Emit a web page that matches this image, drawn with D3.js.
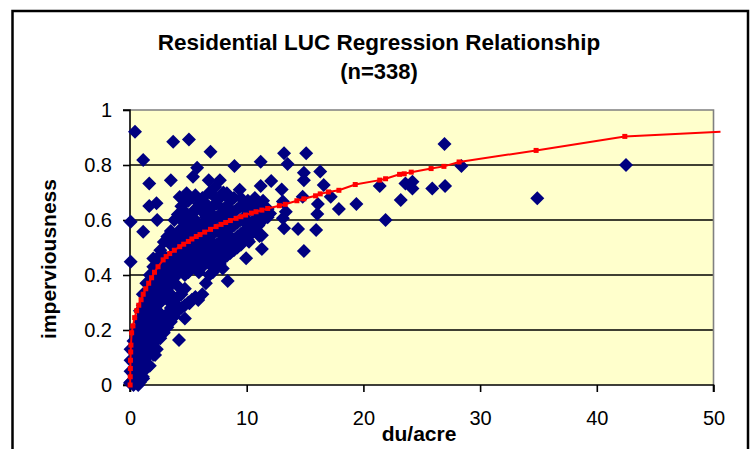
<!DOCTYPE html>
<html>
<head>
<meta charset="utf-8">
<script src="https://cdn.jsdelivr.net/npm/d3@7"></script>
<style>
  body { margin: 0; background: #fff; }
  text { font-family: "Liberation Sans", Arial, sans-serif; }
</style>
</head>
<body>
<div id="grafico"></div>
<script>
const titulo = "Residential LUC Regression Relationship";
const subtitulo = "(n=338)";
const tituloX = "du/acre";
const tituloY = "imperviousness";
const ticksX = [0, 10, 20, 30, 40, 50];
const ticksY = [0, 0.2, 0.4, 0.6, 0.8, 1];
const lineasGuia = [0.2, 0.4, 0.6, 0.8];

// puntos sueltos (du/acre, imperviousness)
const puntosSueltos = [
  [0.43,0.921],[3.7,0.885],[5.05,0.893],[6.9,0.848],[1.13,0.818],[5.75,0.79],[1.65,0.733],
  [3.5,0.745],[6.75,0.745],[5.4,0.757],[1.65,0.651],[2.27,0.661],[0.06,0.594],[2.33,0.6],
  [1.13,0.557],[4.26,0.684],[4.85,0.697],[4.4,0.6],[13.2,0.843],[15.1,0.843],[11.2,0.812],
  [8.95,0.796],[13.5,0.804],[14.9,0.772],[16.3,0.776],[14.9,0.745],[16.6,0.727],[12.1,0.742],
  [11.2,0.724],[13.0,0.711],[14.8,0.685],[13.1,0.667],[16.1,0.658],[17.9,0.64],[16.05,0.622],
  [13.35,0.63],[13.1,0.606],[13.2,0.57],[14.4,0.567],[15.95,0.564],[11.1,0.542],[14.9,0.487],
  [11.3,0.495],[10.2,0.521],[9.95,0.461],[7.95,0.424],[8.37,0.378],[26.95,0.876],[28.4,0.796],
  [23.6,0.733],[24.2,0.739],[24.2,0.715],[25.9,0.715],[27.0,0.724],[21.4,0.724],[23.2,0.673],
  [21.9,0.6],[19.4,0.658],[17.2,0.685],[34.9,0.679],[42.5,0.8],[0.06,0.448],[4.7,0.242],
  [4.2,0.164],[2.15,0.109],[1.13,0.024],[0.7,0.0],[0.0,0.007],[5.85,0.309],[5.1,0.297],
  [7.7,0.745],[8.3,0.697],[12.0,0.624],[10.1,0.527],[11.3,0.545],[7.3,0.72],[9.4,0.71]
];

// nucleo denso: cada fila es [du/acre, [imperviousness...]]
const nucleo = [
  [0.05, [0.01, 0.05, 0.09, 0.13]],
  [0.3, [0.0, 0.04, 0.08, 0.12, 0.16]],
  [0.55, [0.02, 0.06, 0.11, 0.15, 0.2]],
  [0.85, [0.01, 0.05, 0.09, 0.14, 0.18, 0.23, 0.27]],
  [1.1, [0.03, 0.07, 0.12, 0.16, 0.21, 0.25, 0.29, 0.33]],
  [1.4, [0.06, 0.1, 0.14, 0.19, 0.24, 0.28, 0.33, 0.37]],
  [1.7, [0.07, 0.12, 0.17, 0.22, 0.26, 0.31, 0.36, 0.4]],
  [2.0, [0.11, 0.15, 0.2, 0.25, 0.29, 0.34, 0.39, 0.43, 0.46]],
  [2.3, [0.13, 0.18, 0.23, 0.27, 0.32, 0.36, 0.41, 0.46]],
  [2.6, [0.17, 0.21, 0.26, 0.3, 0.35, 0.4, 0.44, 0.49]],
  [2.9, [0.19, 0.24, 0.33, 0.38, 0.42, 0.47, 0.52]],
  [3.2, [0.21, 0.26, 0.31, 0.35, 0.4, 0.45, 0.54]],
  [3.5, [0.23, 0.28, 0.33, 0.37, 0.42, 0.47, 0.51, 0.56]],
  [3.8, [0.25, 0.3, 0.39, 0.44, 0.48, 0.53, 0.6]],
  [4.1, [0.27, 0.32, 0.36, 0.41, 0.46, 0.5, 0.55, 0.62]],
  [4.4, [0.28, 0.33, 0.43, 0.48, 0.52, 0.57, 0.65]],
  [4.7, [0.29, 0.35, 0.4, 0.45, 0.5, 0.54, 0.59, 0.63]],
  [5.0, [0.3, 0.41, 0.46, 0.51, 0.56, 0.61, 0.67]],
  [5.3, [0.31, 0.43, 0.48, 0.53, 0.58, 0.62]],
  [5.6, [0.32, 0.44, 0.5, 0.55, 0.6, 0.64, 0.69]],
  [5.9, [0.41, 0.46, 0.52, 0.57, 0.66]],
  [6.2, [0.33, 0.43, 0.48, 0.53, 0.58, 0.63, 0.68]],
  [6.5, [0.37, 0.46, 0.51, 0.56, 0.61, 0.66]],
  [6.8, [0.4, 0.44, 0.48, 0.53, 0.58, 0.63, 0.7]],
  [7.1, [0.41, 0.45, 0.5, 0.55, 0.6, 0.65, 0.69]],
  [7.4, [0.43, 0.47, 0.51, 0.56, 0.61, 0.66]],
  [7.7, [0.44, 0.48, 0.52, 0.57, 0.62, 0.68]],
  [8.0, [0.46, 0.5, 0.54, 0.59, 0.64, 0.7]],
  [8.3, [0.47, 0.51, 0.55, 0.6, 0.65]],
  [8.6, [0.48, 0.52, 0.57, 0.62, 0.67]],
  [8.9, [0.49, 0.53, 0.58, 0.63, 0.68]],
  [9.2, [0.5, 0.54, 0.59, 0.64]],
  [9.5, [0.51, 0.55, 0.6, 0.65, 0.68]],
  [9.8, [0.53, 0.56, 0.61, 0.66]],
  [10.1, [0.54, 0.58, 0.63, 0.67]],
  [10.4, [0.55, 0.59, 0.64]],
  [10.7, [0.56, 0.6, 0.65, 0.68]],
  [11.0, [0.58, 0.62, 0.66]],
  [11.4, [0.6, 0.63, 0.67]],
  [11.8, [0.61, 0.64]]
];

// curva de regresion (valores estimados en cada du/acre)
const curvaAjuste = [
  [0.01,0.0],[0.02,0.03],[0.03,0.06],[0.04,0.09],[0.06,0.12],[0.08,0.145],[0.14,0.19],[0.25,0.215],
  [0.4,0.245],[0.57,0.27],[0.75,0.29],[0.95,0.31],[1.13,0.33],[1.35,0.35],[1.6,0.37],[1.85,0.39],
  [2.1,0.41],[2.4,0.43],[2.84,0.455],[3.1,0.467],[3.4,0.478],[3.8,0.49],[4.26,0.503],[4.6,0.512],
  [5.0,0.522],[5.3,0.531],[5.68,0.54],[6.0,0.547],[6.4,0.556],[6.9,0.566],[7.38,0.576],[7.8,0.584],
  [8.2,0.591],[8.6,0.598],[9.09,0.606],[9.5,0.612],[9.9,0.618],[10.4,0.625],[10.8,0.63],[11.3,0.636],
  [11.8,0.642],[12.8,0.652],[13.3,0.657],[14.3,0.67],[14.9,0.677],[15.9,0.688],[16.3,0.695],
  [17.0,0.702],[17.9,0.708],[19.3,0.729],[21.4,0.745],[21.9,0.75],[23.1,0.766],[23.5,0.768],
  [24.1,0.774],[25.8,0.787],[26.9,0.795],[28.2,0.811],[34.8,0.853],[42.4,0.904],[50.6,0.921]
];

const width = 752;
const height = 449;
const plot = { left: 130, right: 713.5, top: 110, bottom: 385 };

const x = d3.scaleLinear().domain([0, 50]).range([plot.left, plot.right]);
const y = d3.scaleLinear().domain([0, 1]).range([plot.bottom, plot.top]);

const svg = d3
  .select("#grafico")
  .append("svg")
  .attr("width", width)
  .attr("height", height);

svg.append("rect").attr("width", width).attr("height", height).attr("fill", "#fff");

// marco exterior
svg
  .append("rect")
  .attr("x", 12.5)
  .attr("y", 11)
  .attr("width", 735.5)
  .attr("height", 470)
  .attr("fill", "none")
  .attr("stroke", "#000")
  .attr("stroke-width", 2.5);

// fondo del area de grafico
svg
  .append("rect")
  .attr("x", plot.left)
  .attr("y", plot.top)
  .attr("width", plot.right - plot.left)
  .attr("height", plot.bottom - plot.top)
  .attr("fill", "#FFFFCC");

svg
  .append("g")
  .selectAll("line")
  .data(lineasGuia)
  .join("line")
  .attr("x1", plot.left)
  .attr("x2", plot.right)
  .attr("y1", (d) => y(d))
  .attr("y2", (d) => y(d))
  .attr("stroke", "#000")
  .attr("stroke-width", 1.6);

// borde gris arriba y derecha
svg
  .append("path")
  .attr("d", `M${plot.left},${plot.top}H${plot.right}V${plot.bottom}`)
  .attr("fill", "none")
  .attr("stroke", "#808080")
  .attr("stroke-width", 1.6);

// ejes
const ejeY = svg
  .append("g")
  .attr("transform", `translate(${plot.left},0)`)
  .call(d3.axisLeft(y).tickValues(ticksY).tickSize(7).tickPadding(11).tickFormat((d) => d3.format("")(d)));
const ejeX = svg
  .append("g")
  .attr("transform", `translate(0,${plot.bottom})`)
  .call(d3.axisBottom(x).tickValues(ticksX).tickSize(7).tickPadding(19));

[ejeY, ejeX].forEach((g) => {
  g.select(".domain").attr("stroke", "#000").attr("stroke-width", 1.6);
  g.selectAll(".tick line").attr("stroke", "#000").attr("stroke-width", 1.6);
  g.selectAll(".tick text")
    .attr("fill", "#000")
    .style("font-size", "20px")
    .style("font-family", '"Liberation Sans", Arial, sans-serif');
});
ejeY.select(".domain").attr("d", `M-7,${plot.top}H0V${plot.bottom}H-7`);
ejeX.select(".domain").attr("d", `M${plot.left},7V0H${plot.right}V7`);

// puntos
const puntos = puntosSueltos.concat(nucleo.flatMap(([du, ys]) => ys.map((v) => [du, v])));
const rombo = "M0,-7L7,0L0,7L-7,0Z";

svg
  .append("g")
  .selectAll("path")
  .data(puntos)
  .join("path")
  .attr("d", rombo)
  .attr("transform", (d) => `translate(${x(d[0])},${y(d[1])})`)
  .attr("fill", "#000080");

// linea de regresion
const linea = d3
  .line()
  .x((d) => x(d[0]))
  .y((d) => y(d[1]));

svg
  .append("path")
  .datum(curvaAjuste)
  .attr("d", linea)
  .attr("fill", "none")
  .attr("stroke", "#FF0000")
  .attr("stroke-width", 2);

svg
  .append("g")
  .selectAll("rect")
  .data(curvaAjuste.filter((d) => d[0] <= 50))
  .join("rect")
  .attr("x", (d) => x(d[0]) - 2.5)
  .attr("y", (d) => y(d[1]) - 2.5)
  .attr("width", 5)
  .attr("height", 5)
  .attr("fill", "#FF0000");

// textos
svg
  .append("text")
  .attr("x", 379)
  .attr("y", 50)
  .attr("text-anchor", "middle")
  .style("font-size", "22.5px")
  .style("font-weight", "bold")
  .text(titulo);

svg
  .append("text")
  .attr("x", 379)
  .attr("y", 79)
  .attr("text-anchor", "middle")
  .style("font-size", "22px")
  .style("font-weight", "bold")
  .text(subtitulo);

svg
  .append("text")
  .attr("x", 419)
  .attr("y", 441)
  .attr("text-anchor", "middle")
  .style("font-size", "21px")
  .style("font-weight", "bold")
  .text(tituloX);

svg
  .append("text")
  .attr("transform", "translate(56,259) rotate(-90)")
  .attr("text-anchor", "middle")
  .style("font-size", "21px")
  .style("font-weight", "bold")
  .text(tituloY);
</script>
</body>
</html>
